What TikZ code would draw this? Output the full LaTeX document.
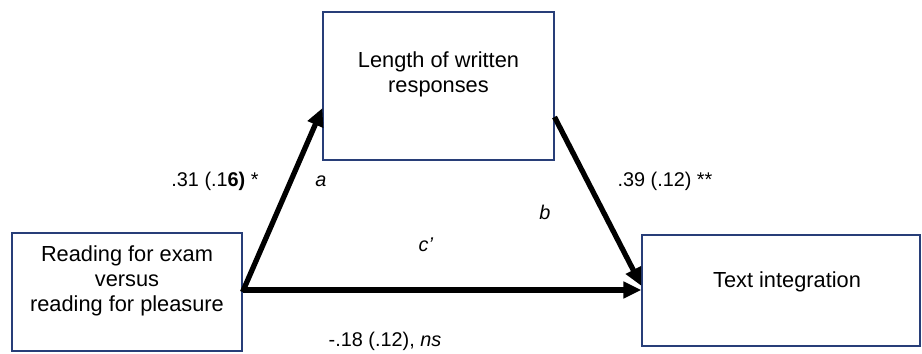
\documentclass[tikz,border=0pt]{standalone}
\usepackage{fontspec}
\setmainfont{Liberation Sans}
\usetikzlibrary{arrows.meta}
\definecolor{boxblue}{RGB}{40,62,120}
\tikzset{
  varbox/.style={draw=boxblue,line width=0.6pt,rectangle,align=center,
    font=\fontsize{12.4}{14.2}\selectfont},
  path/.style={line width=3pt,-{Triangle[length=0.36cm,width=0.32cm]}},
  coef/.style={font=\fontsize{11.3}{13}\selectfont,inner sep=0pt}
}
\begin{document}
\begin{tikzpicture}
  \useasboundingbox (0,0) rectangle (18.44,7.08);
        \node[varbox,minimum width=4.6cm,minimum height=2.36cm] (read) at (2.54,1.24)
          {Reading for exam\\versus\\reading for pleasure\rule[-0.54cm]{0pt}{0pt}};
        \node[varbox,minimum width=4.62cm,minimum height=2.96cm] (len) at (8.77,5.36)
          {Length of written\\responses\rule[-0.56cm]{0pt}{0pt}};
        \node[varbox,minimum width=5.56cm,minimum height=2.22cm] (integ) at (15.62,1.27)
          {\hspace{0.24cm}Text integration\rule[-0.42cm]{0pt}{0pt}};
        \draw[path] (read.east) -- ([yshift=-0.44cm]len.west);
        \draw[path] ([yshift=-0.62cm]len.east) -- ([yshift=0.09cm]integ.west);
        \draw[path] ([yshift=0.04cm]read.east) -- ([yshift=0.01cm]integ.west);
        \node[coef] (acoef) at (4.30,3.46) {.31 (.1\textbf{6)} *};
        \node[coef] (alab)  at (6.42,3.46) {\textit{a}};
        \node[coef] (bcoef) at (13.30,3.46) {.39 (.12) **};
        \node[coef] (blab)  at (10.90,2.84) {\textit{b}};
        \node[coef] (clab)  at (8.52,2.18) {\textit{c’}};
        \node[coef] (ccoef) at (7.70,0.26) {-.18 (.12), \textit{ns}};
    \end{tikzpicture}
\end{document}
